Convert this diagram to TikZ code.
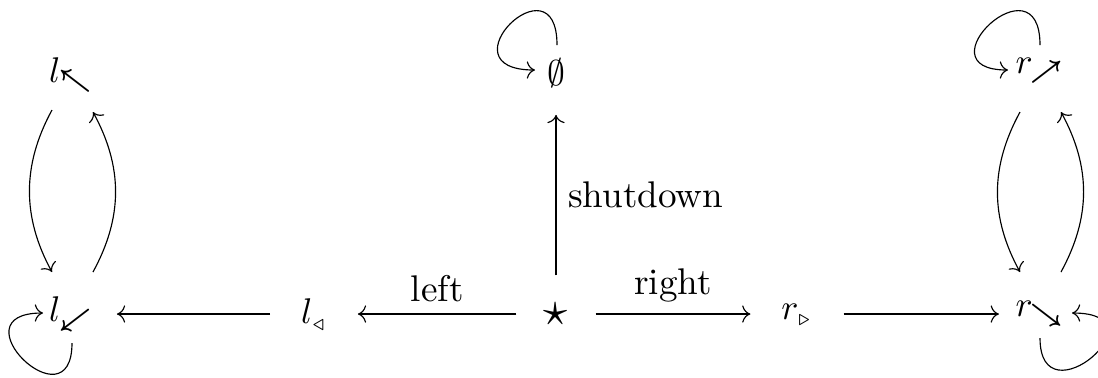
\documentclass[tikz,border=0pt]{standalone}
\usepackage{amsmath,amssymb,graphicx}
\usetikzlibrary{arrows.meta}
\begin{document}
\begin{tikzpicture}[x=0.28pt,y=-0.28pt,
  obj/.style={inner xsep=8.5pt,inner ysep=7.5pt,font=\fontsize{10.4}{12}\selectfont},
  arr/.style={-{Computer Modern Rightarrow},line width=0.32pt},
  lbl/.style={inner sep=3.3pt,font=\fontsize{10.4}{12}\selectfont}]
\useasboundingbox (0,0) rectangle (1098,377);
% nodes
\node[obj] (lnw)  at (71,75)   {$l_{\mkern-0.5mu\boldsymbol{\nwarrow}}$};
\node[obj] (e)    at (556,73)  {$\emptyset$};
\node[obj] (rne)  at (1040,71) {$r_{\mkern-1mu\boldsymbol{\nearrow}}$};
\node[obj] (lsw)  at (71,314)  {$l_{\mkern-0.5mu\boldsymbol{\swarrow}}$};
\node[obj] (ltri) at (314,314) {$l_{\scriptscriptstyle\triangleleft}$};
\node[obj,inner xsep=7.5pt] (star) at (556,314) {\scalebox{1.35}{$\star$}};
\node[obj] (rtri) at (797,314) {$r_{\scriptscriptstyle\triangleright}$};
\node[obj] (rse)  at (1040,314) {$r_{\mkern-1mu\boldsymbol{\searrow}}$};
% straight arrows
\draw[arr] (star) -- node[lbl,above] {left} (ltri);
\draw[arr] (star) -- node[lbl,above] {right} (rtri);
\draw[arr,shorten >=-2pt] (ltri) -- (lsw);
\draw[arr,shorten >=-4pt] (rtri) -- (rse);
\draw[arr] (star) -- node[lbl,right] {shutdown} (e);
% vertical bends, left
\draw[arr] ([shift={(-19,35)}]lnw.center) .. controls +(-30,55) and +(-30,-55) .. ([shift={(-19,-42)}]lsw.center);
\draw[arr] ([shift={(22,-42)}]lsw.center) .. controls +(30,-55) and +(30,55) .. ([shift={(22,37)}]lnw.center);
% vertical bends, right
\draw[arr] ([shift={(-20,41)}]rne.center) .. controls +(-30,55) and +(-30,-55) .. ([shift={(-20,-42)}]rse.center);
\draw[arr] ([shift={(21,-42)}]rse.center) .. controls +(30,-55) and +(30,55) .. ([shift={(21,41)}]rne.center);
% loops
\draw[arr] ([shift={(1,-28)}]e.center) .. controls +(0,-90) and +(-95,0) .. ([shift={(-21,-3)}]e.center);
\draw[arr] ([shift={(0,-26)}]rne.center) .. controls +(0,-90) and +(-90,0) .. ([shift={(-32,-1)}]rne.center);
\draw[arr] ([shift={(1,29)}]lsw.center) .. controls +(0,85) and +(-90,0) .. ([shift={(-28,-1)}]lsw.center);
\draw[arr] ([shift={(0,24)}]rse.center) .. controls +(0,85) and +(95,0) .. ([shift={(32,-1)}]rse.center);
\end{tikzpicture}
\end{document}
